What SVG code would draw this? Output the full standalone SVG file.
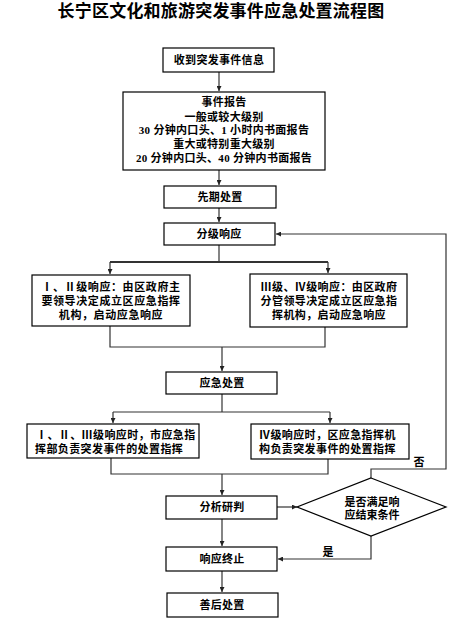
<svg xmlns="http://www.w3.org/2000/svg" width="476" height="627" viewBox="0 0 476 627">
<defs>
<marker id="arr" viewBox="0 0 8 8" refX="8" refY="4" markerWidth="5" markerHeight="5" orient="auto" markerUnits="userSpaceOnUse">
<path d="M0,0 L8,4 L0,8 z" fill="#222"/>
</marker>
<style>
.box{fill:#fff;stroke:#000;stroke-width:1.2}
.t{font-family:"Liberation Serif","Noto Sans CJK SC",serif;font-weight:bold;font-size:11px;fill:#000}
.c{text-anchor:middle}
.ln{fill:none;stroke:#333;stroke-width:1.2}
.title{font-family:"Liberation Serif","Noto Sans CJK SC",serif;font-weight:bold;font-size:17px;fill:#000;text-anchor:middle}
</style>
</defs>
<rect width="476" height="627" fill="#fff"/>
<text class="title" x="221" y="17" letter-spacing="0.2">长宁区文化和旅游突发事件应急处置流程图</text>

<g id="connectors">
<path class="ln" d="M219,72 V91" marker-end="url(#arr)"/>
<path class="ln" d="M219,170 V185" marker-end="url(#arr)"/>
<path class="ln" d="M219,208 V222" marker-end="url(#arr)"/>
<path class="ln" d="M219,245 V262"/>
<path class="ln" d="M110,262 H328" style="stroke-width:2.2"/>
<path class="ln" d="M110,262 V274" marker-end="url(#arr)"/>
<path class="ln" d="M328,262 V273" marker-end="url(#arr)"/>
<path class="ln" d="M110,326 V347 H325 V327"/>
<path class="ln" d="M222,347 V371" marker-end="url(#arr)"/>
<path class="ln" d="M222,394 V412"/>
<path class="ln" d="M113,412 H330"/>
<path class="ln" d="M113,412 V423" marker-end="url(#arr)"/>
<path class="ln" d="M330,412 V423" marker-end="url(#arr)"/>
<path class="ln" d="M111,458 V474 H328 V459"/>
<path class="ln" d="M222,474 V495" marker-end="url(#arr)"/>
<path class="ln" d="M277,507 H297" marker-end="url(#arr)"/>
<path class="ln" d="M371,478 V469 H446 V234 H276" marker-end="url(#arr)"/>
<path class="ln" d="M371,536 V559 H278" marker-end="url(#arr)"/>
<path class="ln" d="M222,519 V546" marker-end="url(#arr)"/>
<path class="ln" d="M222,571 V592" marker-end="url(#arr)"/>
<text class="t c" x="419" y="466">否</text>
<text class="t c" x="328" y="556">是</text>
</g>

<g id="n1"><rect class="box" x="163" y="48" width="111" height="24"/><text class="t c" x="219" y="64" letter-spacing="0.3">收到突发事件信息</text></g>
<g id="n2"><rect class="box" x="123" y="92" width="202" height="78"/>
<text class="t c" x="224" y="106" letter-spacing="0.3">事件报告</text>
<text class="t c" x="224" y="121" letter-spacing="0.3">一般或较大级别</text>
<text class="t c" x="224" y="134" letter-spacing="0.3">30 分钟内口头、1 小时内书面报告</text>
<text class="t c" x="224" y="148" letter-spacing="0.3">重大或特别重大级别</text>
<text class="t c" x="224" y="162" letter-spacing="0.3">20 分钟内口头、40 分钟内书面报告</text>
</g>
<g id="n3"><rect class="box" x="164" y="186" width="112" height="22"/><text class="t c" x="220" y="201" letter-spacing="0.3">先期处置</text></g>
<g id="n4"><rect class="box" x="164" y="223" width="111" height="22"/><text class="t c" x="219" y="238" letter-spacing="0.3">分级响应</text></g>
<g id="n5"><rect class="box" x="32" y="275" width="158" height="51"/>
<text class="t c" x="111" y="291" letter-spacing="0.6">Ⅰ、Ⅱ级响应：由区政府主</text>
<text class="t c" x="111" y="305" letter-spacing="0.6">要领导决定成立区应急指挥</text>
<text class="t c" x="111" y="319" letter-spacing="0.6">机构，启动应急响应</text>
</g>
<g id="n6"><rect class="box" x="250" y="274" width="157" height="53"/>
<text class="t c" x="329" y="291" letter-spacing="0.4">Ⅲ级、Ⅳ级响应：由区政府</text>
<text class="t c" x="329" y="305" letter-spacing="0.4">分管领导决定成立区应急指</text>
<text class="t c" x="329" y="319" letter-spacing="0.4">挥机构，启动应急响应</text>
</g>
<g id="n7"><rect class="box" x="166" y="372" width="111" height="22"/><text class="t c" x="222" y="387" letter-spacing="0.3">应急处置</text></g>
<g id="n8"><rect class="box" x="27" y="424" width="172" height="34"/>
<text class="t" x="36" y="439" letter-spacing="0.4">Ⅰ、Ⅱ、Ⅲ级响应时，市应急指</text>
<text class="t" x="35" y="453" letter-spacing="0.4">挥部负责突发事件的处置指挥</text>
</g>
<g id="n9"><rect class="box" x="251" y="424" width="158" height="35"/>
<text class="t" x="259" y="439" letter-spacing="0.4">Ⅳ级响应时，区应急指挥机</text>
<text class="t" x="259" y="453" letter-spacing="0.4">构负责突发事件的处置指挥</text>
</g>
<g id="n10"><rect class="box" x="166" y="496" width="111" height="23"/><text class="t c" x="222" y="511" letter-spacing="0.3">分析研判</text></g>
<g id="n11"><polygon class="box" points="371,478 446,507 371,536 297,507"/>
<text class="t c" x="372" y="506">是否满足响</text>
<text class="t c" x="372" y="519">应结束条件</text>
</g>
<g id="n12"><rect class="box" x="166" y="547" width="111" height="24"/><text class="t c" x="222" y="563" letter-spacing="0.3">响应终止</text></g>
<g id="n13"><rect class="box" x="167" y="593" width="111" height="24"/><text class="t c" x="222" y="609" letter-spacing="0.3">善后处置</text></g>
</svg>
